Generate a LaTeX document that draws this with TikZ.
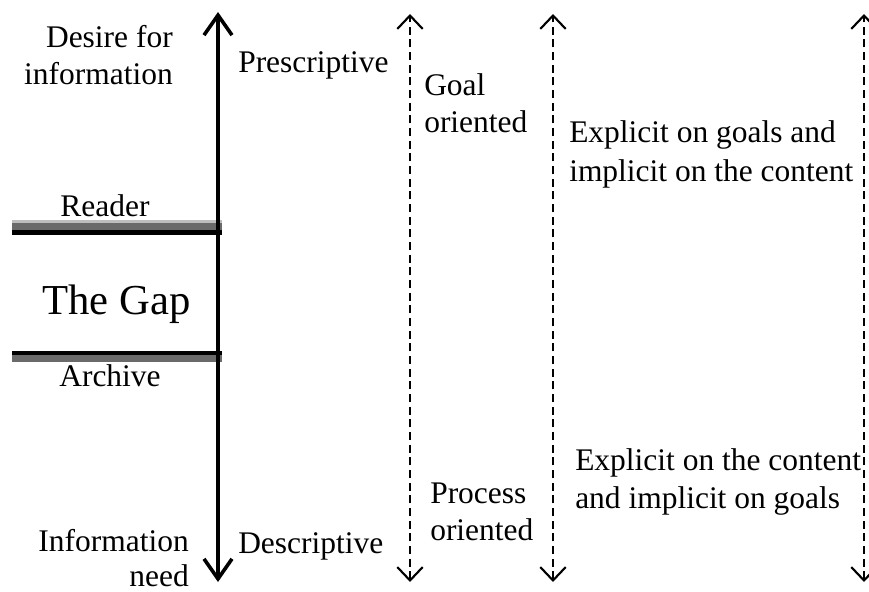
\documentclass[tikz,border=0pt]{standalone}
\usepackage{fontspec}
\setmainfont{Liberation Serif}
\usetikzlibrary{arrows.meta}
\definecolor{bardark}{HTML}{6A6A6A}
\definecolor{barlight}{HTML}{BEBEBE}
\begin{document}
\begin{tikzpicture}[x=0.75pt,y=-0.75pt,
  txt/.style={inner sep=0pt,font=\fontsize{23.6pt}{28pt}\selectfont},
  mainarrow/.style={line width=2.9pt,{Straight Barb[length=15pt,width=21pt,line width=2.7pt]}-{Straight Barb[length=15pt,width=21pt,line width=2.7pt]}},
  dasharrow/.style={line width=1.5pt,dash pattern=on 6pt off 3.5pt,{Straight Barb[length=10pt,width=19pt,line width=1.6pt]}-{Straight Barb[length=10pt,width=19pt,line width=1.6pt]}}]
\useasboundingbox (0,0) rectangle (869,592);
% coordinates
\coordinate (mTop) at (218,12);
\coordinate (mBot) at (218,582);
\coordinate (d1Top) at (410,14);
\coordinate (d1Bot) at (410,582);
\coordinate (d2Top) at (553,14);
\coordinate (d2Bot) at (553,582);
\coordinate (d3Top) at (864,14);
\coordinate (d3Bot) at (864,582);
% bars
\fill[barlight] (12,220) rectangle (222,223.5);
\fill[bardark] (12,223.5) rectangle (222,230);
\fill[black] (12,230) rectangle (222,235);
\fill[black] (12,351) rectangle (222,355);
\fill[bardark] (12,355) rectangle (222,362);
% arrows
\draw[mainarrow] (mBot) -- (mTop);
\draw[dasharrow] (d1Bot) -- (d1Top);
\draw[dasharrow] (d2Bot) -- (d2Top);
\draw[dasharrow] (d3Bot) -- (d3Top);
% texts
\node[txt,anchor=base east] (desire) at (173,48) {Desire for};
\node[txt,anchor=base east] (information) at (173,85) {information};
\node[txt,anchor=base] (reader) at (105,216) {Reader};
\node[inner sep=0pt,font=\fontsize{32pt}{36pt}\selectfont,anchor=base west] (gap) at (42,314) {The Gap};
\node[txt,anchor=base] (archive) at (110,386) {Archive};
\node[txt,anchor=base east] (infoneed1) at (189,551) {Information};
\node[txt,anchor=base east] (infoneed2) at (189,586) {need};
\node[txt,anchor=base west] (prescr) at (238,73) {Prescriptive};
\node[txt,anchor=base west] (descr) at (238,553) {Descriptive};
\node[txt,anchor=base west] (goal1) at (424,96) {Goal};
\node[txt,anchor=base west] (goal2) at (424,133) {oriented};
\node[txt,anchor=base west] (proc1) at (430,503) {Process};
\node[txt,anchor=base west] (proc2) at (430,540) {oriented};
\node[txt,anchor=base west] (expg1) at (569,143) {Explicit on goals and};
\node[txt,anchor=base west] (expg2) at (569,181) {implicit on the content};
\node[txt,anchor=base west] (expc1) at (575,470) {Explicit on the content};
\node[txt,anchor=base west] (expc2) at (575,508) {and implicit on goals};
\end{tikzpicture}
\end{document}
